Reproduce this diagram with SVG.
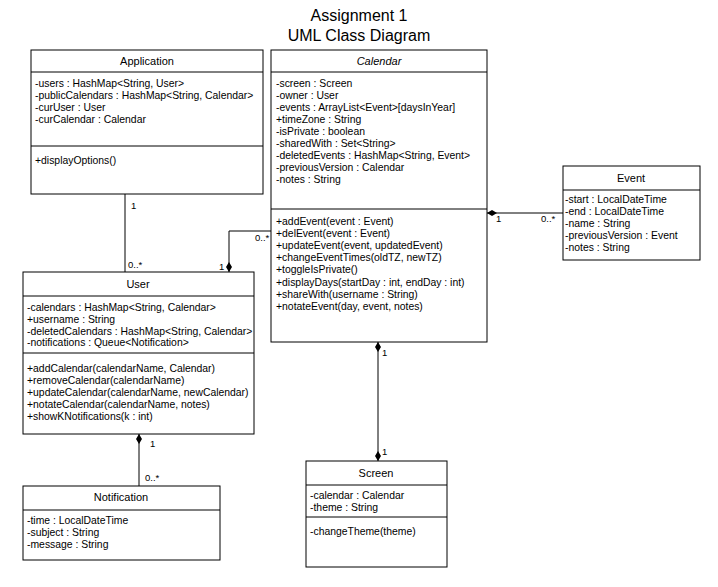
<svg xmlns="http://www.w3.org/2000/svg" width="718" height="587" viewBox="0 0 718 587">
<style>
.box{fill:#fff;stroke:#000;stroke-width:1}
.sep{stroke:#000;stroke-width:1}
.t{font-family:"Liberation Sans",Arial,sans-serif;font-size:10.4px;fill:#000}
.h{font-family:"Liberation Sans",Arial,sans-serif;font-size:11px;fill:#000;text-anchor:middle}
.title{font-family:"Liberation Sans",Arial,sans-serif;font-size:16px;fill:#000;text-anchor:middle}
.c{fill:none;stroke:#000;stroke-width:1}
.lbl{font-family:"Liberation Sans",Arial,sans-serif;font-size:9.5px;fill:#000}
</style>
<defs>
<marker id="dia" markerUnits="userSpaceOnUse" markerWidth="10" markerHeight="8" viewBox="0 0 10 8" refX="0" refY="4" orient="auto">
<path d="M0,4 L5,1 L10,4 L5,7 Z" fill="#000"/>
</marker>
</defs>
<rect width="718" height="587" fill="#fff"/>
<text class="title" x="359" y="21">Assignment 1</text>
<text class="title" x="359" y="41">UML Class Diagram</text>

<g id="connectors">
<path class="c" d="M125,194 L125,272"/>
<text class="lbl" x="131" y="209">1</text>
<text class="lbl" x="128" y="268">0..*</text>

<path class="c" d="M229,272 L229,231 L271,231" marker-start="url(#dia)"/>
<text class="lbl" x="219" y="270">1</text>
<text class="lbl" x="255" y="241">0..*</text>

<path class="c" d="M487,213 L563,213" marker-start="url(#dia)"/>
<text class="lbl" x="496" y="222">1</text>
<text class="lbl" x="541" y="222">0..*</text>

<path class="c" d="M378,342 L378,461" marker-start="url(#dia)"/>
<path d="M378,461 L375,456 L378,451 L381,456 Z" fill="#000"/>
<text class="lbl" x="382" y="356">1</text>
<text class="lbl" x="382" y="455">1</text>

<path class="c" d="M139,434 L139,486" marker-start="url(#dia)"/>
<text class="lbl" x="150" y="447">1</text>
<text class="lbl" x="145" y="481">0..*</text>
</g>

<g id="Application">
<rect class="box" x="31" y="50" width="232" height="144"/>
<line class="sep" x1="31" y1="72" x2="263" y2="72"/>
<line class="sep" x1="31" y1="146" x2="263" y2="146"/>
<text class="h" x="147" y="65">Application</text>
<text class="t" x="35" y="87">-users : HashMap&lt;String, User&gt;</text>
<text class="t" x="35" y="99">-publicCalendars : HashMap&lt;String, Calendar&gt;</text>
<text class="t" x="35" y="111">-curUser : User</text>
<text class="t" x="35" y="123">-curCalendar : Calendar</text>
<text class="t" x="35" y="164">+displayOptions()</text>
</g>

<g id="Calendar">
<rect class="box" x="271" y="50" width="216" height="292"/>
<line class="sep" x1="271" y1="72" x2="487" y2="72"/>
<line class="sep" x1="271" y1="209" x2="487" y2="209"/>
<text class="h" x="379" y="65" font-style="italic">Calendar</text>
<text class="t" x="276" y="87">-screen : Screen</text>
<text class="t" x="276" y="99">-owner : User</text>
<text class="t" x="276" y="111">-events : ArrayList&lt;Event&gt;[daysInYear]</text>
<text class="t" x="276" y="123">+timeZone : String</text>
<text class="t" x="276" y="135">-isPrivate : boolean</text>
<text class="t" x="276" y="147">-sharedWith : Set&lt;String&gt;</text>
<text class="t" x="276" y="159">-deletedEvents : HashMap&lt;String, Event&gt;</text>
<text class="t" x="276" y="171">-previousVersion : Calendar</text>
<text class="t" x="276" y="183">-notes : String</text>
<text class="t" x="276" y="225">+addEvent(event : Event)</text>
<text class="t" x="276" y="237">+delEvent(event : Event)</text>
<text class="t" x="276" y="249">+updateEvent(event, updatedEvent)</text>
<text class="t" x="276" y="261">+changeEventTimes(oldTZ, newTZ)</text>
<text class="t" x="276" y="273">+toggleIsPrivate()</text>
<text class="t" x="276" y="286">+displayDays(startDay : int, endDay : int)</text>
<text class="t" x="276" y="298">+shareWith(username : String)</text>
<text class="t" x="276" y="310">+notateEvent(day, event, notes)</text>
</g>

<g id="User">
<rect class="box" x="23" y="272" width="231" height="162"/>
<line class="sep" x1="23" y1="296" x2="254" y2="296"/>
<line class="sep" x1="23" y1="353" x2="254" y2="353"/>
<text class="h" x="138" y="288">User</text>
<text class="t" x="27" y="311">-calendars : HashMap&lt;String, Calendar&gt;</text>
<text class="t" x="27" y="323">+username : String</text>
<text class="t" x="27" y="335">-deletedCalendars : HashMap&lt;String, Calendar&gt;</text>
<text class="t" x="27" y="346">-notifications : Queue&lt;Notification&gt;</text>
<text class="t" x="27" y="372">+addCalendar(calendarName, Calendar)</text>
<text class="t" x="27" y="384">+removeCalendar(calendarName)</text>
<text class="t" x="27" y="396">+updateCalendar(calendarName, newCalendar)</text>
<text class="t" x="27" y="408">+notateCalendar(calendarName, notes)</text>
<text class="t" x="27" y="420">+showKNotifications(k : int)</text>
</g>

<g id="Event">
<rect class="box" x="563" y="166" width="137" height="94"/>
<line class="sep" x1="563" y1="190" x2="700" y2="190"/>
<text class="h" x="631" y="182">Event</text>
<text class="t" x="565" y="203">-start : LocalDateTime</text>
<text class="t" x="565" y="215">-end : LocalDateTime</text>
<text class="t" x="565" y="227">-name : String</text>
<text class="t" x="565" y="239">-previousVersion : Event</text>
<text class="t" x="565" y="251">-notes : String</text>
</g>

<g id="Screen">
<rect class="box" x="306" y="461" width="141" height="106"/>
<line class="sep" x1="306" y1="485" x2="447" y2="485"/>
<line class="sep" x1="306" y1="517" x2="447" y2="517"/>
<text class="h" x="376" y="477">Screen</text>
<text class="t" x="310" y="499">-calendar : Calendar</text>
<text class="t" x="310" y="511">-theme : String</text>
<text class="t" x="310" y="535">-changeTheme(theme)</text>
</g>

<g id="Notification">
<rect class="box" x="23" y="486" width="197" height="74"/>
<line class="sep" x1="23" y1="510" x2="220" y2="510"/>
<text class="h" x="121" y="501">Notification</text>
<text class="t" x="27" y="524">-time : LocalDateTime</text>
<text class="t" x="27" y="536">-subject : String</text>
<text class="t" x="27" y="548">-message : String</text>
</g>
</svg>
